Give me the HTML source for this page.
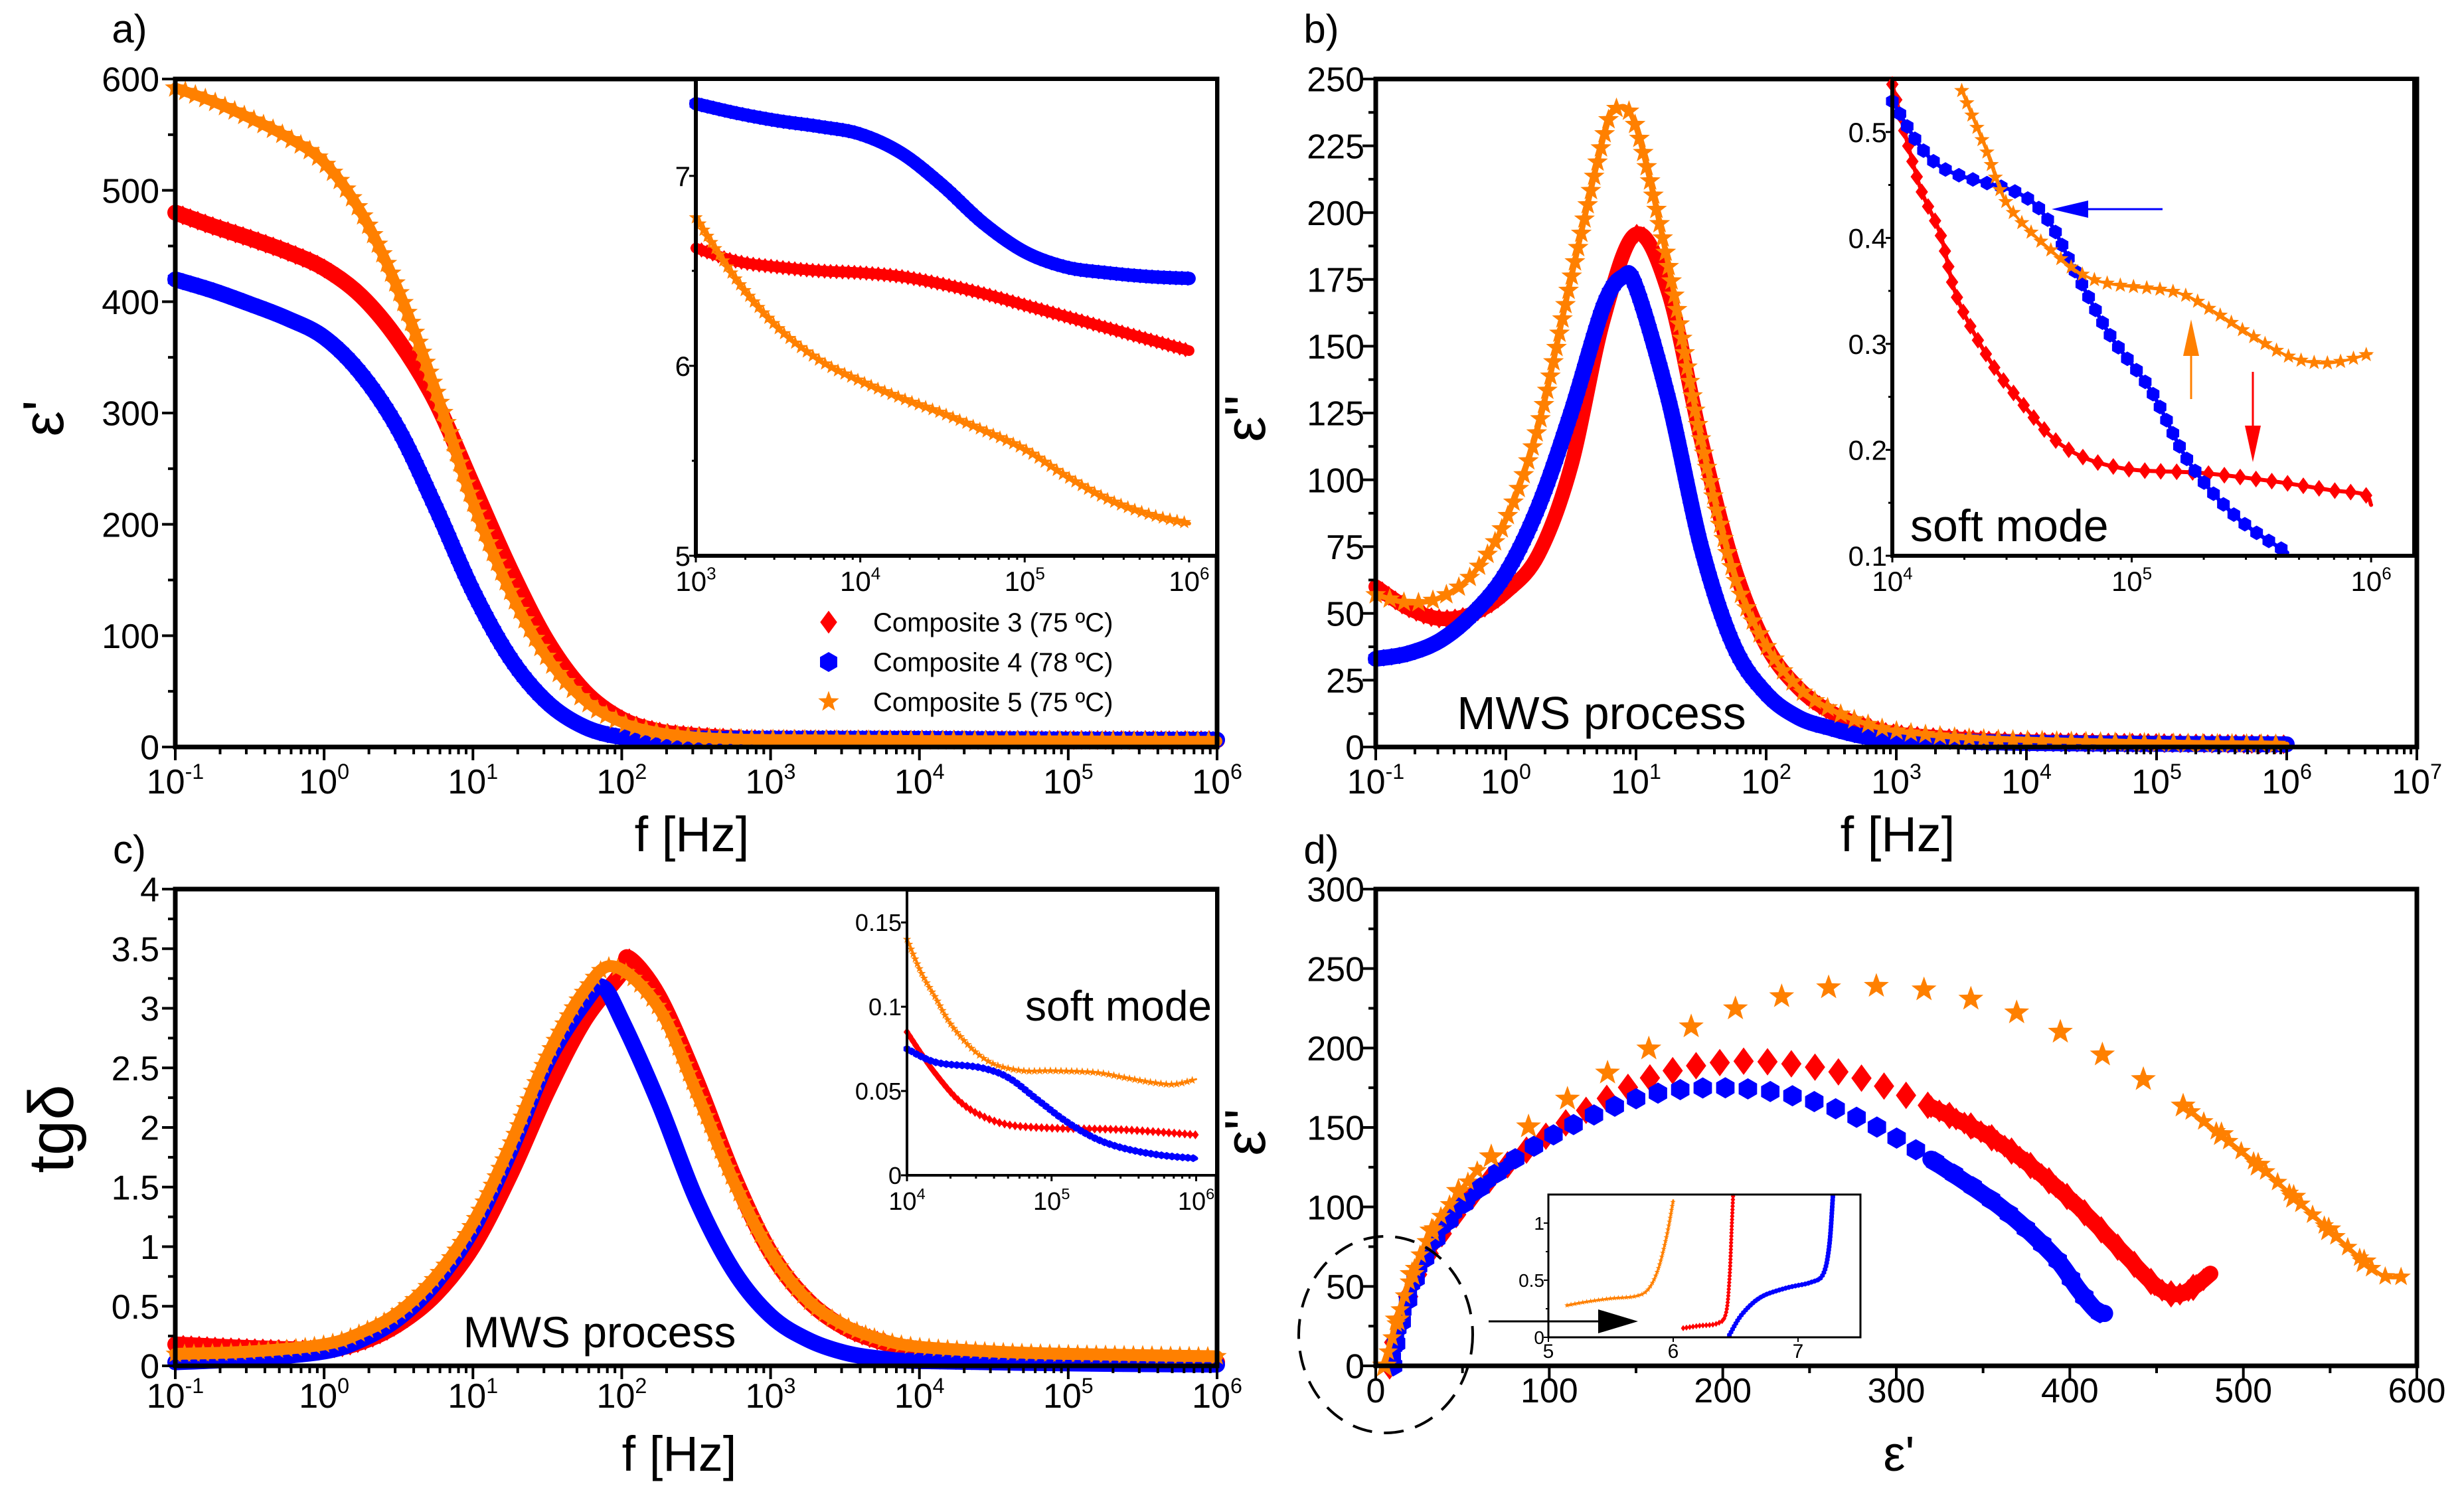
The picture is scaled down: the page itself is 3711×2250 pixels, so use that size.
<!DOCTYPE html>
<html><head><meta charset="utf-8"><style>
html,body{margin:0;padding:0;background:#fff}
svg{display:block}
text{font-family:"Liberation Sans",sans-serif;fill:#000}
</style></head><body>
<svg id="fig" width="3711" height="2250" viewBox="0 0 3711 2250" xmlns="http://www.w3.org/2000/svg"></svg>
<script>
// ---------- Panel a data (log10 f, eps') ----------
const aLogF = [-1,-0.75,-0.5,-0.25,0,0.25,0.5,0.75,1,1.25,1.5,1.75,2,2.25,2.5,2.75,3,4,5,6];
const aRed = [480,468,457,445,430,405,365,310,235,160,95,50,25,14,10,8,7,6.5,6.3,6.1];
const aBlue = [420,410,398,385,368,335,285,215,140,80,40,18,9,8,7.5,7.4,7.4,7.2,6.6,6.5];
const aOrange = [592,580,565,548,525,480,410,320,220,140,80,42,22,13,9,7.4,6.8,5.9,5.6,5.2];
const aInLogF = [3,3.25,3.5,3.75,4,4.25,4.5,4.75,5,5.25,5.5,5.75,6];
const aInRed = [6.62,6.55,6.52,6.5,6.49,6.47,6.43,6.38,6.32,6.26,6.2,6.14,6.08];
const aInBlue = [7.38,7.33,7.29,7.26,7.22,7.12,6.95,6.75,6.6,6.52,6.49,6.47,6.46];
const aInOrange = [6.78,6.45,6.2,6.03,5.92,5.83,5.75,5.66,5.56,5.42,5.3,5.22,5.17];
// ---------- Panel b data (log10 f, eps'') ----------
const bRedLogF = [-1,-0.75,-0.5,-0.25,0,0.25,0.5,0.75,1,1.25,1.5,1.75,2,2.25,2.5,2.75,3,3.5,4,5,6];
const bRed = [60,52,48,50,58,72,105,160,192,170,115,68,38,22,13,8,5,3,2,1.5,1];
const bBlueLogF = [-1,-0.75,-0.5,-0.25,0,0.25,0.5,0.75,0.9,1,1.25,1.5,1.75,2,2.25,2.5,2.75,3,4,6];
const bBlue = [33,35,40,50,65,90,125,165,176,172,130,75,38,20,11,7,4,3,1.5,1];
const bOrangeLogF = [-1,-0.75,-0.5,-0.25,0,0.25,0.5,0.75,0.85,1,1.25,1.5,1.75,2,2.25,2.5,2.75,3,3.5,4,5,6];
const bOrange = [57,54,56,65,85,120,175,228,239,232,180,115,65,38,22,14,9,6,3.5,2.5,1.5,1];
const bInRedLogF = [4,4.11,4.2,4.27,4.4,4.52,4.71,4.95,5.3,5.6,5.83,5.97,6.0];
const bInRed = [0.545,0.452,0.404,0.344,0.287,0.25,0.204,0.183,0.178,0.17,0.162,0.158,0.148];
const bInBlueLogF = [4,4.19,4.52,4.65,4.76,4.91,5.08,5.24,5.44,5.65];
const bInBlue = [0.529,0.469,0.443,0.417,0.37,0.308,0.256,0.188,0.136,0.103];
const bInOrangeLogF = [4.29,4.39,4.48,4.65,4.85,5.18,5.34,5.5,5.67,5.83,6.0];
const bInOrange = [0.539,0.484,0.432,0.391,0.36,0.349,0.331,0.308,0.287,0.282,0.291];
// ---------- Panel c data (log10 f, tg delta) ----------
const cRedLogF = [-1,-0.5,0,0.25,0.5,0.75,1,1.25,1.5,1.75,2,2.05,2.25,2.5,2.75,3,3.25,3.5,3.75,4,4.5,5,6];
const cRed = [0.18,0.15,0.14,0.2,0.35,0.6,1.0,1.6,2.3,2.9,3.3,3.42,3.1,2.4,1.6,0.95,0.55,0.32,0.2,0.13,0.08,0.05,0.03];
const cBlueLogF = [-1,-0.5,0,0.25,0.5,0.75,1,1.25,1.5,1.75,1.87,2,2.25,2.5,2.75,3,3.25,3.5,3.75,4,5,6];
const cBlue = [0.03,0.06,0.12,0.22,0.4,0.7,1.15,1.8,2.55,3.05,3.18,2.9,2.2,1.4,0.8,0.42,0.22,0.11,0.06,0.04,0.02,0.01];
const cOrangeLogF = [-1,-0.5,0,0.25,0.5,0.75,1,1.25,1.5,1.75,1.95,2.25,2.5,2.75,3,3.25,3.5,3.75,4,4.5,5,6];
const cOrange = [0.1,0.12,0.18,0.28,0.45,0.75,1.2,1.85,2.6,3.15,3.35,3.0,2.3,1.55,0.95,0.55,0.34,0.22,0.16,0.12,0.1,0.08];
const cInOrangeLogF = [4,4.1,4.2,4.3,4.45,4.6,4.8,5,5.3,5.5,5.7,5.85,6];
const cInOrange = [0.14,0.12,0.105,0.09,0.075,0.066,0.062,0.062,0.061,0.058,0.055,0.054,0.057];
const cInRedLogF = [4,4.1,4.2,4.35,4.5,4.7,5,5.5,6];
const cInRed = [0.085,0.072,0.06,0.045,0.036,0.03,0.028,0.027,0.024];
const cInBlueLogF = [4,4.2,4.5,4.7,4.9,5.1,5.3,5.5,5.75,6];
const cInBlue = [0.075,0.067,0.064,0.058,0.045,0.032,0.022,0.016,0.012,0.01];
// ---------- Panel d data (eps', eps'') ----------
const dOrangeRe = [5,10,20,35,60,100,150,200,250,280,320,370,420,470,510,540,565,580,592];
const dOrangeIm = [0,20,55,90,125,160,195,222,236,239,236,222,195,160,125,95,70,57,56];
const dRedRe = [8,12,25,50,80,120,160,200,240,280,320,360,400,430,450,462,472,481];
const dRedIm = [0,20,60,100,130,160,182,191,190,181,163,140,105,72,50,45,50,58];
const dBlueRe = [10,13,25,45,80,120,160,200,240,280,320,360,390,405,415,420];
const dBlueIm = [0,20,60,95,130,155,171,175,170,155,130,100,70,48,35,33];
const dInOrangeRe = [5.15,5.3,5.5,5.7,5.8,5.88,5.95,6.0];
const dInOrangeIm = [0.28,0.31,0.34,0.36,0.42,0.6,0.9,1.2];
const dInRedRe = [6.08,6.2,6.35,6.42,6.45,6.47,6.48];
const dInRedIm = [0.08,0.1,0.12,0.2,0.5,1.0,1.25];
const dInBlueRe = [6.45,6.55,6.7,6.9,7.1,7.2,7.25,7.28];
const dInBlueIm = [0.02,0.2,0.35,0.43,0.48,0.55,0.8,1.25];
// tick labels
const linTicksA = [0,100,200,300,400,500,600];
const linTicksB = [0,25,50,75,100,125,150,175,200,225,250];
const linTicksC = [0,0.5,1,1.5,2,2.5,3,3.5,4];
const linTicksD = [0,50,100,150,200,250,300];
const linTicksDx = [0,100,200,300,400,500,600];

const RED='#ff0000', BLUE='#0000ff', ORANGE='#ff8000';
const svg=document.getElementById('fig');
const NS='http://www.w3.org/2000/svg';
function mk(tag,attrs,parent){const e=document.createElementNS(NS,tag);for(const k in attrs)e.setAttribute(k,attrs[k]);(parent||svg).appendChild(e);return e;}
function txt(x,y,s,size,anchor,parent,extra){const t=mk('text',Object.assign({x:x,y:y,'font-size':size,'text-anchor':anchor||'middle'},extra||{}),parent);t.textContent=s;return t;}
function pow10(x,y,exp,size,parent){const t=mk('text',{x:x,y:y,'font-size':size,'text-anchor':'middle'},parent);t.textContent='10';const sp=mk('tspan',{dy:-size*0.42,'font-size':size*0.62},t);sp.textContent=String(exp);return t;}

function markerPath(shape,x,y,s){
  if(shape==='diamond')return `M${x},${y-s*1.15}L${x+s*0.85},${y}L${x},${y+s*1.15}L${x-s*0.85},${y}Z`;
  if(shape==='hex'){let d='';for(let i=0;i<6;i++){const a=Math.PI/3*i+Math.PI/6;d+=(i?'L':'M')+(x+s*Math.cos(a))+','+(y+s*Math.sin(a));}return d+'Z';}
  let d='';for(let i=0;i<10;i++){const r=i%2?s*0.45:s*1.1;const a=-Math.PI/2+i*Math.PI/5;d+=(i?'L':'M')+(x+r*Math.cos(a))+','+(y+r*Math.sin(a));}return d+'Z';
}
function smoothD(P){
  let d='M'+P[0][0]+','+P[0][1];
  for(let i=0;i<P.length-1;i++){
    const p0=P[Math.max(0,i-1)],p1=P[i],p2=P[i+1],p3=P[Math.min(P.length-1,i+2)];
    const c1x=p1[0]+(p2[0]-p0[0])/6,c1y=p1[1]+(p2[1]-p0[1])/6;
    const c2x=p2[0]-(p3[0]-p1[0])/6,c2y=p2[1]-(p3[1]-p1[1])/6;
    d+=`C${c1x},${c1y} ${c2x},${c2y} ${p2[0]},${p2[1]}`;
  }
  return d;
}
// band: stroke width of continuous band (0 = none); spacing: px between markers along curve
function series(g,xs,ys,sx,sy,color,shape,band,ms,name,spacing){
  const grp=mk('g',{},g);
  
  
  const P=xs.map((v,i)=>[sx(v),sy(ys[i])]);
  const path=mk('path',{d:smoothD(P),fill:'none',stroke:color,'stroke-width':band,'stroke-linejoin':'round','stroke-linecap':'round'},grp);
  
  
  if(band<=0)path.setAttribute('stroke','none');
  let pts=P;
  if(spacing>0){const L=path.getTotalLength();pts=[];for(let s=0;s<=L+0.1;s+=spacing){const q=path.getPointAtLength(Math.min(s,L));pts.push([q.x,q.y]);}}
  let d='';pts.forEach(p=>{d+=markerPath(shape,p[0],p[1],ms);});
  const m=mk('path',{d:d,fill:color},grp);
  
  
}
function frame(name,X0,X1,Y0,Y1,xmin,xmax,ymin,ymax){
  const g=mk('g',{});
  
  
  const sx=v=>X0+(v-xmin)/(xmax-xmin)*(X1-X0);
  const sy=v=>Y1-(v-ymin)/(ymax-ymin)*(Y1-Y0);
  const bg=mk('rect',{x:X0,y:Y0,width:X1-X0,height:Y1-Y0,fill:'#fff'},g);
  
  
  return {g,sx,sy,X0,X1,Y0,Y1,xmin,xmax,ymin,ymax};
}
function drawBox(F,lw){const r=mk('rect',{x:F.X0,y:F.Y0,width:F.X1-F.X0,height:F.Y1-F.Y0,fill:'none',stroke:'#000','stroke-width':lw},F.g);
  
  }
function logXTicks(F,major,minor,lw,labSize,labY,labels){
  const ax=mk('g',{stroke:'#000','stroke-width':lw},F.g);
  
  
  for(let e=Math.ceil(F.xmin);e<=Math.floor(F.xmax);e++){
    mk('line',{x1:F.sx(e),x2:F.sx(e),y1:F.Y1,y2:F.Y1+major},ax);
    for(let k=2;k<=9;k++){const v=e+Math.log10(k);if(v<F.xmax)mk('line',{x1:F.sx(v),x2:F.sx(v),y1:F.Y1,y2:F.Y1+minor},ax);}
    if(labels){const t=pow10(F.sx(e),labY,e,labSize,F.g);}
  }
}
function linXTicks(F,ticks,major,minor,lw,labSize,labY){
  const ax=mk('g',{stroke:'#000','stroke-width':lw},F.g);
  
  
  ticks.forEach((v,i)=>{mk('line',{x1:F.sx(v),x2:F.sx(v),y1:F.Y1,y2:F.Y1+major},ax);
    if(i<ticks.length-1&&minor){const m=(v+ticks[i+1])/2;mk('line',{x1:F.sx(m),x2:F.sx(m),y1:F.Y1,y2:F.Y1+minor},ax);}
    const t=txt(F.sx(v),labY,String(v),labSize,'middle',F.g);});
}
function linYTicks(F,ticks,major,minor,lw,labSize,labX,minorN){
  const ax=mk('g',{stroke:'#000','stroke-width':lw},F.g);
  
  
  ticks.forEach((v,i)=>{mk('line',{x1:F.X0,x2:F.X0-major,y1:F.sy(v),y2:F.sy(v)},ax);
    if(i<ticks.length-1&&minorN){for(let k=1;k<minorN;k++){const m=v+(ticks[i+1]-v)*k/minorN;mk('line',{x1:F.X0,x2:F.X0-minor,y1:F.sy(m),y2:F.sy(m)},ax);}}
    const t=txt(labX,F.sy(v)+labSize*0.36,String(v),labSize,'end',F.g);});
}
function label(x,y,s,size,name,rot){const t=txt(x,y,s,size,'middle',svg,rot?{transform:`rotate(-90 ${x} ${y})`}:{});return t;}
function arrow(x1,y1,x2,y2,c,name,hw,hl){const g=mk('g',{});
  
  
  const dx=x2-x1,dy=y2-y1,L=Math.hypot(dx,dy),ux=dx/L,uy=dy/L;
  mk('line',{x1:x1,y1:y1,x2:x2-ux*hl,y2:y2-uy*hl,stroke:c,'stroke-width':3},g);
  mk('path',{d:`M${x2},${y2}L${x2-ux*hl-uy*hw},${y2-uy*hl+ux*hw}L${x2-ux*hl+uy*hw},${y2-uy*hl-ux*hw}Z`,fill:c},g);}

const TS=52; // tick label size

// ================= Panel a =================
let A=frame('panel-a',264,1833,119,1125,-1,6,0,600);
series(A.g,aLogF,aRed,A.sx,A.sy,RED,'diamond',24,13,'series-composite-3',12);
series(A.g,aLogF,aBlue,A.sx,A.sy,BLUE,'hex',24,13,'series-composite-4',12);
series(A.g,aLogF,aOrange,A.sx,A.sy,ORANGE,'star',16,15,'series-composite-5',16);
drawBox(A,7);
logXTicks(A,20,11,4,TS,1195,true);
linYTicks(A,linTicksA,20,11,4,TS,240,2);
let AI=frame('panel-a-inset',1048,1833,119,837,3,6.17,5,7.51);
series(AI.g,aInLogF,aInRed,AI.sx,AI.sy,RED,'diamond',16,10,'inset-a-composite-3',9);
series(AI.g,aInLogF,aInBlue,AI.sx,AI.sy,BLUE,'hex',20,11,'inset-a-composite-4',9);
series(AI.g,aInLogF,aInOrange,AI.sx,AI.sy,ORANGE,'star',6,10,'inset-a-composite-5',11);
drawBox(AI,6);
logXTicks(AI,10,6,3,42,890,true);
linYTicks(AI,[5,6,7],10,6,3,42,1040,2);
const leg=mk('g',{});


[['Composite 3 (75 ºC)',RED,'diamond',937],['Composite 4 (78 ºC)',BLUE,'hex',997],['Composite 5 (75 ºC)',ORANGE,'star',1057]].forEach(r=>{
  const m=mk('path',{d:markerPath(r[2],1248,r[3],15),fill:r[1]},leg);
  
  
  const t=txt(1315,r[3]+14,r[0],40,'start',leg);
  
  
});
label(1042,1282,'f [Hz]',74,'x-axis-title-a');
label(95,630,"ε'",86,'y-axis-title-a',true);
label(195,64,'a)',60,'panel-label-a');

// ================= Panel b =================
let B=frame('panel-b',2072,3640,119,1125,-1,7,0,250);
series(B.g,bRedLogF,bRed,B.sx,B.sy,RED,'diamond',22,13,'series-b-composite-3',12);
series(B.g,bBlueLogF,bBlue,B.sx,B.sy,BLUE,'hex',24,13,'series-b-composite-4',12);
series(B.g,bOrangeLogF,bOrange,B.sx,B.sy,ORANGE,'star',8,15,'series-b-composite-5',22);
drawBox(B,7);
logXTicks(B,20,11,4,TS,1195,true);
linYTicks(B,linTicksB,20,11,4,TS,2055,2);
label(2412,1098,'MWS process',70,'annotation-mws-b');
let BI=frame('panel-b-inset',2850,3636,119,837,4,6.18,0.1,0.55);
series(BI.g,bInRedLogF,bInRed,BI.sx,BI.sy,RED,'diamond',6,11,'inset-b-composite-3',24);
series(BI.g,bInBlueLogF,bInBlue,BI.sx,BI.sy,BLUE,'hex',6,11,'inset-b-composite-4',22);
series(BI.g,bInOrangeLogF,bInOrange,BI.sx,BI.sy,ORANGE,'star',4,11,'inset-b-composite-5',20);
drawBox(BI,6);
logXTicks(BI,10,6,3,42,890,true);
linYTicks(BI,[0.1,0.2,0.3,0.4,0.5],10,6,3,42,2842,2);
const t_soft_b=txt(2877,815,'soft mode',68,'start');


arrow(3257,315,3090,315,BLUE,'arrow-blue',13,55);
arrow(3300,601,3300,481,ORANGE,'arrow-orange',12,55);
arrow(3393,560,3393,696,RED,'arrow-red',12,55);
label(2858,1282,'f [Hz]',74,'x-axis-title-b');
label(1905,630,"ε''",86,'y-axis-title-b',true);
label(1990,64,'b)',60,'panel-label-b');

// ================= Panel c =================
let C=frame('panel-c',264,1833,1339,2057,-1,6,0,4);
series(C.g,cRedLogF,cRed,C.sx,C.sy,RED,'diamond',24,13,'series-c-composite-3',12);
series(C.g,cBlueLogF,cBlue,C.sx,C.sy,BLUE,'hex',24,12,'series-c-composite-4',12);
series(C.g,cOrangeLogF,cOrange,C.sx,C.sy,ORANGE,'star',18,14,'series-c-composite-5',14);
drawBox(C,7);
logXTicks(C,20,11,4,TS,2120,true);
linYTicks(C,linTicksC,20,11,4,TS,240,2);
label(903,2029,'MWS process',66,'annotation-mws-c');
let CI=frame('panel-c-inset',1366,1832,1341,1770,4,6.14,0,0.169);
series(CI.g,cInRedLogF,cInRed,CI.sx,CI.sy,RED,'diamond',5,6,'inset-c-composite-3',8);
series(CI.g,cInBlueLogF,cInBlue,CI.sx,CI.sy,BLUE,'hex',6,6,'inset-c-composite-4',8);
series(CI.g,cInOrangeLogF,cInOrange,CI.sx,CI.sy,ORANGE,'star',3,6,'inset-c-composite-5',8);
drawBox(CI,4);
logXTicks(CI,9,5,3,38,1822,true);
linYTicks(CI,[0,0.05,0.1,0.15],9,5,3,36,1358,0);
const t_soft_c=txt(1825,1537,'soft mode',64,'end');


label(1023,2215,'f [Hz]',74,'x-axis-title-c');
label(110,1700,'tgδ',96,'y-axis-title-c',true);
label(195,1300,'c)',60,'panel-label-c');

// ================= Panel d =================
let D=frame('panel-d',2072,3640,1339,2057,0,600,0,300);
series(D.g,dRedRe,dRedIm,D.sx,D.sy,RED,'diamond',0,18,'series-d-composite-3',36);
series(D.g,dRedRe.slice(10),dRedIm.slice(10),D.sx,D.sy,RED,'diamond',24,15,'series-d-composite-3-dense',14);
series(D.g,dRedRe.slice(0,5),dRedIm.slice(0,5),D.sx,D.sy,RED,'diamond',14,12,'series-d-composite-3-low',14);
series(D.g,dBlueRe,dBlueIm,D.sx,D.sy,BLUE,'hex',0,16,'series-d-composite-4',34);
series(D.g,dBlueRe.slice(10),dBlueIm.slice(10),D.sx,D.sy,BLUE,'hex',26,13,'series-d-composite-4-dense',14);
series(D.g,dBlueRe.slice(0,5),dBlueIm.slice(0,5),D.sx,D.sy,BLUE,'hex',16,12,'series-d-composite-4-low',14);
series(D.g,dOrangeRe,dOrangeIm,D.sx,D.sy,ORANGE,'star',0,18,'series-d-composite-5',72);
series(D.g,dOrangeRe.slice(13),dOrangeIm.slice(13),D.sx,D.sy,ORANGE,'star',6,14,'series-d-composite-5-dense',24);
series(D.g,dOrangeRe.slice(0,5),dOrangeIm.slice(0,5),D.sx,D.sy,ORANGE,'star',8,14,'series-d-composite-5-low',22);
drawBox(D,7);
linXTicks(D,linTicksDx,20,11,4,TS,2112);
linYTicks(D,linTicksD,20,11,4,TS,2055,2);
const ell=mk('ellipse',{cx:2087,cy:2010,rx:131,ry:148,fill:'none',stroke:'#000','stroke-width':4,'stroke-dasharray':'30 18'});


let DI=frame('panel-d-inset',2332,2802,1799,2014,5,7.5,0,1.25);
series(DI.g,dInOrangeRe,dInOrangeIm,DI.sx,DI.sy,ORANGE,'star',3,4,'inset-d-composite-5',6);
series(DI.g,dInRedRe,dInRedIm,DI.sx,DI.sy,RED,'diamond',3,4,'inset-d-composite-3',5);
series(DI.g,dInBlueRe,dInBlueIm,DI.sx,DI.sy,BLUE,'hex',3,4,'inset-d-composite-4',5);
drawBox(DI,3);
linXTicks(DI,[5,6,7],7,0,2,30,2045);
linYTicks(DI,[0,0.5,1],7,4,2,28,2326,2);
arrow(2242,1990,2467,1990,'#000','zoom-arrow',18,60);
label(2860,2215,"ε'",74,'x-axis-title-d');
label(1905,1705,"ε''",86,'y-axis-title-d',true);
label(1990,1300,'d)',60,'panel-label-d');
</script>
</body></html>
